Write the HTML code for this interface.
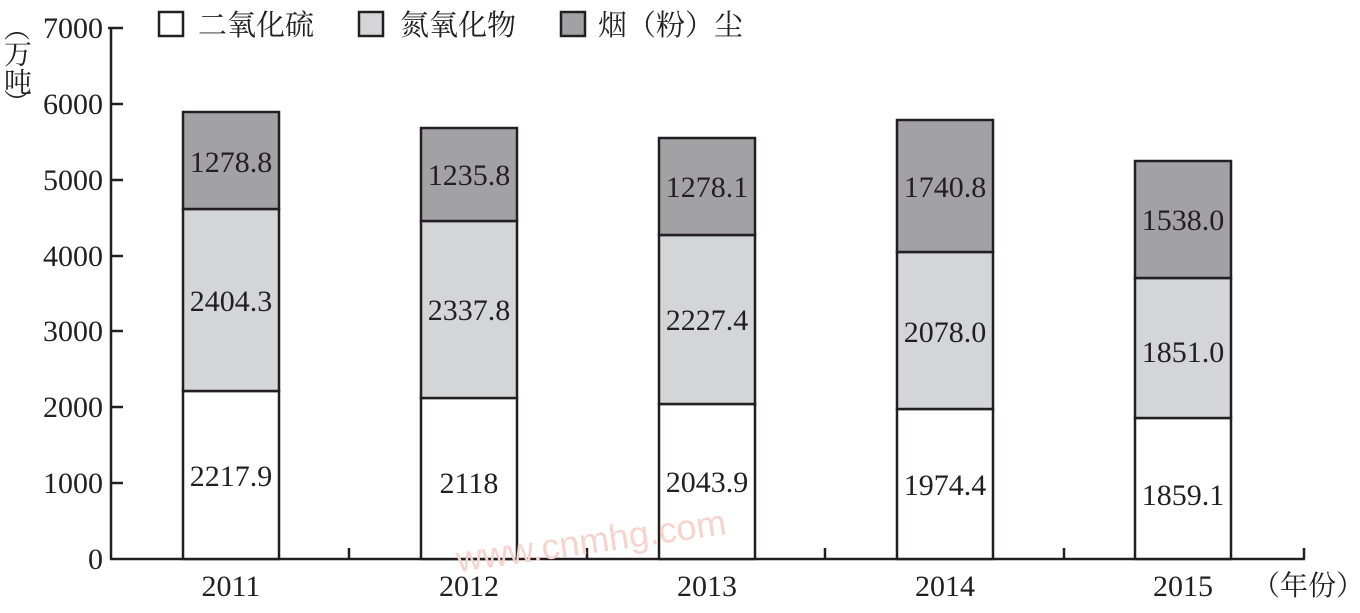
<!DOCTYPE html>
<html><head><meta charset="utf-8"><style>
body{margin:0;background:#fff}
svg text{font-family:"Liberation Serif","Noto Serif CJK SC",serif;fill:#231f20}
</style></head><body>
<svg width="1360" height="608" xmlns="http://www.w3.org/2000/svg">
<g stroke="#231f20" stroke-width="2.5" fill="none">
<line x1="111" y1="27" x2="111" y2="559"/>
<line x1="110" y1="559" x2="1305" y2="559"/>
<line x1="1304" y1="548" x2="1304" y2="559"/>
<line x1="349" y1="548" x2="349" y2="559"/>
<line x1="587" y1="548" x2="587" y2="559"/>
<line x1="825" y1="548" x2="825" y2="559"/>
<line x1="1064" y1="548" x2="1064" y2="559"/>
<line x1="108" y1="28" x2="123" y2="28"/>
<line x1="111" y1="104" x2="123" y2="104"/>
<line x1="111" y1="180" x2="123" y2="180"/>
<line x1="111" y1="256" x2="123" y2="256"/>
<line x1="111" y1="331" x2="123" y2="331"/>
<line x1="111" y1="407" x2="123" y2="407"/>
<line x1="111" y1="483" x2="123" y2="483"/>
</g>
<g font-size="30" text-anchor="end">
<text x="103" y="38">7000</text><text x="103" y="114">6000</text><text x="103" y="190">5000</text>
<text x="103" y="266">4000</text><text x="103" y="341">3000</text><text x="103" y="417">2000</text>
<text x="103" y="493">1000</text><text x="103" y="569">0</text>
</g>
<g font-size="28"><text x="4" y="38" font-size="26">︵</text><text x="4" y="64">万</text><text x="4" y="92">吨</text><text x="4" y="112" font-size="26">︶</text></g>
<g stroke="#231f20" stroke-width="2.5">
<rect x="159" y="12" width="24" height="24" fill="#fff"/>
<rect x="359" y="12" width="24" height="24" fill="#d4d5d7"/>
<rect x="561" y="12" width="24" height="24" fill="#a2a2a4"/>
</g>
<g font-size="29"><text x="198" y="35">二氧化硫</text><text x="400" y="35">氮氧化物</text><text x="598" y="35">烟（粉）尘</text></g>
<g stroke="#231f20" stroke-width="2.5">
<rect x="183" y="391" width="96" height="168" fill="#fff"/>
<rect x="183" y="209" width="96" height="182" fill="#d4d5d7"/>
<rect x="183" y="112" width="96" height="97" fill="#a2a2a4"/>
<rect x="421" y="398" width="96" height="161" fill="#fff"/>
<rect x="421" y="221" width="96" height="177" fill="#d4d5d7"/>
<rect x="421" y="128" width="96" height="93" fill="#a2a2a4"/>
<rect x="659" y="404" width="96" height="155" fill="#fff"/>
<rect x="659" y="235" width="96" height="169" fill="#d4d5d7"/>
<rect x="659" y="138" width="96" height="97" fill="#a2a2a4"/>
<rect x="897" y="409" width="96" height="150" fill="#fff"/>
<rect x="897" y="252" width="96" height="157" fill="#d4d5d7"/>
<rect x="897" y="120" width="96" height="132" fill="#a2a2a4"/>
<rect x="1135" y="418" width="96" height="141" fill="#fff"/>
<rect x="1135" y="278" width="96" height="140" fill="#d4d5d7"/>
<rect x="1135" y="161" width="96" height="117" fill="#a2a2a4"/>
</g>
<text x="458" y="572" font-size="36" style="fill:#f6d3cc;font-family:'Liberation Sans',sans-serif" transform="rotate(-8 458 572)">www.cnmhg.com</text>
<g font-size="30" text-anchor="middle">
<text x="231" y="486">2217.9</text><text x="231" y="311">2404.3</text><text x="231" y="172">1278.8</text>
<text x="469" y="493">2118</text><text x="469" y="320">2337.8</text><text x="469" y="185">1235.8</text>
<text x="707" y="492">2043.9</text><text x="707" y="330">2227.4</text><text x="707" y="197">1278.1</text>
<text x="945" y="495">1974.4</text><text x="945" y="342">2078.0</text><text x="945" y="197">1740.8</text>
<text x="1183" y="505">1859.1</text><text x="1183" y="362">1851.0</text><text x="1183" y="230">1538.0</text>
<text x="231" y="596">2011</text><text x="469" y="596">2012</text><text x="707" y="596">2013</text>
<text x="945" y="596">2014</text><text x="1183" y="596">2015</text>
</g>
<text x="1252" y="595" font-size="28">（年份）</text>
</svg>
</body></html>
